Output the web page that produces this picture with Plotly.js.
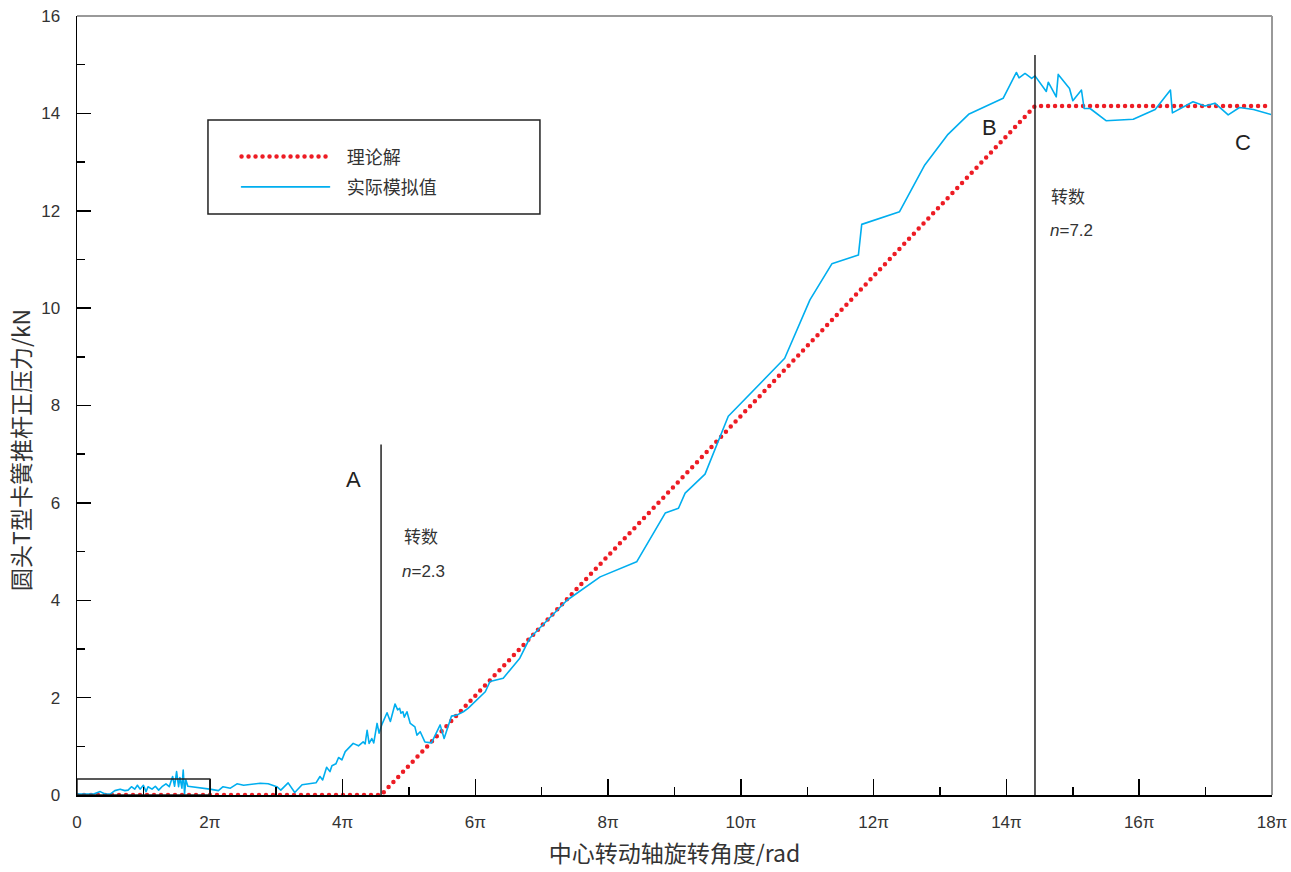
<!DOCTYPE html>
<html><head><meta charset="utf-8">
<script src="https://cdn.plot.ly/plotly-3.0.1.min.js"></script>
<style>
html,body{margin:0;padding:0;background:#fff;}
path.js-line{stroke-linecap:round;stroke-linejoin:round;}
</style></head><body>
<div id="chart" style="width:1291px;height:872px;"></div>
<script>
// rotation angle of the central shaft, in units of π rad
const simX = [0, 0.25, 0.35, 0.42, 0.50, 0.57, 0.65, 0.72, 0.77, 0.82,
  0.87, 0.91, 0.95, 1.00, 1.04, 1.07, 1.13, 1.18, 1.23, 1.28,
  1.34, 1.39, 1.44, 1.47, 1.50, 1.53, 1.55, 1.58, 1.60, 1.62,
  1.64, 1.67, 2.00, 2.13, 2.20, 2.31, 2.41, 2.51, 2.76, 2.88,
  3.01, 3.07, 3.18, 3.28, 3.39, 3.60, 3.66, 3.70, 3.76, 3.81,
  3.84, 3.90, 3.94, 3.99, 4.04, 4.16, 4.24, 4.31, 4.34, 4.37,
  4.40, 4.44, 4.47, 4.52, 4.55, 4.59, 4.67, 4.72, 4.79, 4.83,
  4.86, 4.88, 4.91, 4.93, 4.97, 5.02, 5.09, 5.12, 5.17, 5.24,
  5.34, 5.47, 5.53, 5.57, 5.64, 5.72, 5.82, 5.89, 5.97, 6.15,
  6.22, 6.42, 6.67, 6.82, 7.38, 7.88, 8.43, 8.86, 9.06, 9.16,
  9.46, 9.81, 10.66, 11.04, 11.37, 11.77, 11.82, 12.39, 12.77, 13.12,
  13.43, 13.95, 14.15, 14.19, 14.28, 14.38, 14.43, 14.60, 14.63, 14.75,
  14.78, 14.95, 15.00, 15.13, 15.17, 15.26, 15.50, 15.91, 16.24, 16.47,
  16.50, 16.81, 16.99, 17.14, 17.34, 17.51, 17.72, 18.00];
// simulated normal pressure, kN
const simY = [0.02, 0.02, 0.07, 0.02, 0.02, 0.09, 0.12, 0.09, 0.10, 0.17,
  0.12, 0.20, 0.12, 0.20, 0.07, 0.17, 0.12, 0.18, 0.10, 0.17,
  0.23, 0.17, 0.38, 0.18, 0.48, 0.17, 0.36, 0.14, 0.51, 0.02,
  0.31, 0.18, 0.12, 0.09, 0.17, 0.14, 0.23, 0.20, 0.24, 0.23,
  0.17, 0.10, 0.25, 0.05, 0.21, 0.25, 0.38, 0.31, 0.57, 0.48,
  0.60, 0.64, 0.77, 0.72, 0.89, 1.06, 1.01, 1.09, 1.05, 1.33,
  1.06, 1.16, 1.07, 1.47, 1.27, 1.44, 1.69, 1.51, 1.87, 1.75,
  1.78, 1.68, 1.71, 1.60, 1.71, 1.47, 1.40, 1.23, 1.30, 1.09,
  1.07, 1.44, 1.16, 1.33, 1.62, 1.64, 1.71, 1.78, 1.88, 2.12,
  2.33, 2.40, 2.81, 3.22, 4.00, 4.48, 4.79, 5.79, 5.89, 6.20,
  6.59, 7.78, 8.97, 10.17, 10.91, 11.09, 11.72, 11.98, 12.94, 13.57,
  13.98, 14.31, 14.84, 14.73, 14.82, 14.72, 14.77, 14.45, 14.64, 14.34,
  14.80, 14.51, 14.26, 14.48, 14.10, 14.10, 13.85, 13.88, 14.08, 14.48,
  14.01, 14.24, 14.15, 14.21, 13.97, 14.12, 14.08, 13.97];

// theoretical curve: zero until point A, linear rise to point B, then constant
const theoryX = [0, 4.58, 14.43, 18];
const theoryY = [0, 0, 14.15, 14.15];
const markerTopY = [7.2, 15.2];   // tops of the A / B marker lines

const xTickVals = [0, 2, 4, 6, 8, 10, 12, 14, 16, 18];
const xTickText = ['0', '2π', '4π', '6π', '8π', '10π', '12π', '14π', '16π', '18π'];
const seriesNames = ['理论解', '实际模拟值'];

const txt = '#333';
const latin = 'Liberation Sans, Arial, sans-serif';
const cjk = 'Noto Sans CJK SC, Liberation Sans, sans-serif';
const pad = '\u00a0\u00a0\u00a0';

const traces = [
  {x: theoryX, y: theoryY, mode: 'lines', name: pad + seriesNames[0], legendgroup: 'a',
   line: {color: '#ED1C24', width: 4.5, dash: '0px,7px'}, cliponaxis: false, hoverinfo: 'skip'},
  {x: simX, y: simY, mode: 'lines', name: pad + seriesNames[1], legendgroup: 'b',
   line: {color: '#00AEEF', width: 1.6}, cliponaxis: false, hoverinfo: 'skip'}
];

const layout = {
  width: 1291, height: 872,
  margin: {l: 77, r: 19, t: 16, b: 77},
  paper_bgcolor: '#fff', plot_bgcolor: '#fff',
  font: {family: latin, size: 16, color: txt},
  showlegend: true,
  legend: {x: 0.1335, y: 0.843, xanchor: 'left', yanchor: 'top',
    bgcolor: 'rgba(0,0,0,0)', borderwidth: 0, itemwidth: 88,
    traceorder: 'grouped', tracegroupgap: 4,
    font: {family: cjk, size: 18, color: txt}},
  xaxis: {range: [0, 18], tickmode: 'array', tickvals: xTickVals, ticktext: xTickText,
    showgrid: false, zeroline: false, showline: true, linecolor: '#000', linewidth: 1.5,
    ticks: 'inside', ticklen: 16, tickwidth: 1.5, tickcolor: '#000',
    ticklabelstandoff: 11,
    tickfont: {family: 'Liberation Sans Narrow, Liberation Sans, Arial, sans-serif', size: 17, color: txt},
    minor: {dtick: 1, tick0: 0, ticks: 'inside', ticklen: 8, tickwidth: 1.5, tickcolor: '#000'},
    title: {text: '中心转动轴旋转角度/rad', font: {family: cjk, size: 23, color: txt}, standoff: 15}},
  yaxis: {range: [0, 16], dtick: 2, tick0: 0,
    showgrid: false, zeroline: false, showline: true, linecolor: '#000', linewidth: 1.5,
    ticks: 'inside', ticklen: 14, tickwidth: 1.5, tickcolor: '#000',
    ticklabelstandoff: 12,
    tickfont: {family: latin, size: 17, color: txt},
    minor: {dtick: 1, tick0: 0, ticks: 'inside', ticklen: 8, tickwidth: 1.5, tickcolor: '#000'}},
  shapes: [
    {type: 'line', xref: 'paper', yref: 'paper', x0: 0, x1: 1, y0: 1, y1: 1, line: {color: '#999', width: 2}},
    {type: 'line', xref: 'paper', yref: 'paper', x0: 1, x1: 1, y0: 0, y1: 1, line: {color: '#999', width: 2}},
    {type: 'rect', xref: 'x', yref: 'y', x0: 0, x1: 2, y0: 0, y1: 0.33, line: {color: '#222', width: 1.5}},
    {type: 'line', xref: 'x', yref: 'y', x0: theoryX[1], x1: theoryX[1], y0: 0, y1: markerTopY[0], line: {color: '#222', width: 1.5}},
    {type: 'line', xref: 'x', yref: 'y', x0: theoryX[2], x1: theoryX[2], y0: 0, y1: markerTopY[1], line: {color: '#222', width: 1.5}},
    {type: 'rect', xref: 'paper', yref: 'paper', x0: 0.1096, x1: 0.3874, y0: 0.7458, y1: 0.8665, line: {color: '#222', width: 1.5}}
  ],
  annotations: [
    {xref: 'paper', yref: 'paper', x: -0.0477, y: 0.443, xanchor: 'center', yanchor: 'middle',
     text: '圆头T型卡簧推杆正压力/kN', textangle: -90,
     showarrow: false, font: {family: cjk, size: 23, color: txt}},
    {xref: 'x', yref: 'y', x: 4.17, y: 6.49, text: 'A', showarrow: false, font: {family: latin, size: 22, color: '#222'}},
    {xref: 'x', yref: 'y', x: 4.90, y: 5.34, xanchor: 'left', text: '转数', showarrow: false, font: {family: cjk, size: 17, color: txt}},
    {xref: 'x', yref: 'y', x: 4.87, y: 4.60, xanchor: 'left', text: '<i>n</i>=2.3', showarrow: false, font: {family: latin, size: 17, color: txt}},
    {xref: 'x', yref: 'y', x: 13.74, y: 13.70, text: 'B', showarrow: false, font: {family: latin, size: 22, color: '#222'}},
    {xref: 'x', yref: 'y', x: 17.56, y: 13.41, text: 'C', showarrow: false, font: {family: latin, size: 22, color: '#222'}},
    {xref: 'x', yref: 'y', x: 14.64, y: 12.32, xanchor: 'left', text: '转数', showarrow: false, font: {family: cjk, size: 17, color: txt}},
    {xref: 'x', yref: 'y', x: 14.62, y: 11.60, xanchor: 'left', text: '<i>n</i>=7.2', showarrow: false, font: {family: latin, size: 17, color: txt}}
  ]
};

Plotly.newPlot('chart', traces, layout, {staticPlot: true, displayModeBar: false});
</script>
</body></html>
